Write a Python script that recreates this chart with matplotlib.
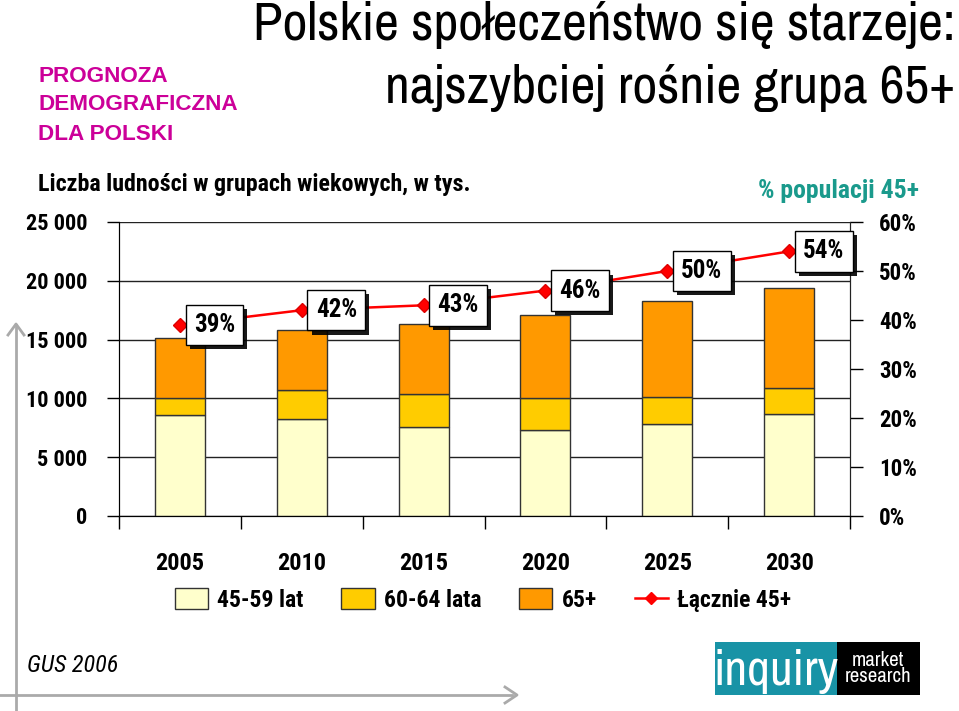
import numpy as np
import matplotlib
matplotlib.use("Agg")
import matplotlib.pyplot as plt
from matplotlib.patches import Rectangle, Patch
from matplotlib.lines import Line2D
from matplotlib.ticker import FuncFormatter, PercentFormatter
import matplotlib.patheffects as pe

years = ["2005", "2010", "2015", "2020", "2025", "2030"]
age_45_59 = np.array([8600, 8250, 7550, 7300, 7800, 8650])
age_60_64 = np.array([1450, 2450, 2800, 2700, 2300, 2200])
age_65p = np.array([5100, 5100, 5950, 7050, 8150, 8500])
share_45p = np.array([0.39, 0.42, 0.43, 0.46, 0.50, 0.54])
share_labels = ["39%", "42%", "43%", "46%", "50%", "54%"]

c_a = "#FFFFCC"
c_b = "#FFCC00"
c_c = "#FF9900"
magenta = "#CC0099"
teal = "#1A9A8C"

narrow = ["Roboto Condensed", "Archivo Narrow", "Liberation Sans", "DejaVu Sans"]
title_font = ["Archivo Narrow", "Roboto Condensed", "Liberation Sans", "DejaVu Sans"]
wide = ["Liberation Sans", "DejaVu Sans"]
plt.rcParams["font.family"] = narrow

W, H = 959, 711
fig = plt.figure(figsize=(W / 100, H / 100), dpi=100)


def fx(px):
    return px / W


def fy(py):
    return 1 - py / H


ax = fig.add_axes([fx(119), fy(516), fx(850) - fx(119), fy(222) - fy(516)])
x = np.arange(len(years))
bw = 0.41
ax.bar(x, age_45_59, bw, color=c_a, edgecolor="#333333", linewidth=1, zorder=3)
ax.bar(x, age_60_64, bw, bottom=age_45_59, color=c_b, edgecolor="#333333", linewidth=1, zorder=3)
ax.bar(x, age_65p, bw, bottom=age_45_59 + age_60_64, color=c_c, edgecolor="#333333", linewidth=1, zorder=3)

ax.set_xlim(-0.5, len(years) - 0.5)
ax.set_ylim(0, 25000)
ax.set_yticks(np.arange(0, 25001, 5000))
ax.yaxis.set_major_formatter(FuncFormatter(lambda v, p: f"{int(v):,}".replace(",", " ")))
ax.grid(axis="y", color="#222222", linewidth=1, zorder=0)
ax.set_axisbelow(True)
ax.tick_params(axis="y", length=9, width=1, labelsize=16, pad=14)
for t in ax.get_yticklabels():
    t.set_fontweight("bold")
ax.set_xticks(np.arange(-0.5, len(years)), labels=[""] * (len(years) + 1))
ax.tick_params(axis="x", which="major", length=9, width=1, direction="out")
ax.set_xticks(x, labels=years, minor=True)
ax.tick_params(axis="x", which="minor", length=0, labelsize=17.5, pad=26)
for t in ax.get_xticklabels(minor=True):
    t.set_fontweight("bold")
ax.spines["top"].set_visible(False)
for s in ["left", "right", "bottom"]:
    ax.spines[s].set_color("#222222")

ax2 = ax.twinx()
ax2.set_ylim(0, 0.6)
ax2.set_yticks(np.arange(0, 0.61, 0.1))
ax2.yaxis.set_major_formatter(PercentFormatter(1.0, decimals=0))
ax2.tick_params(axis="y", length=9, width=1, labelsize=16.5, pad=12)
for t in ax2.get_yticklabels():
    t.set_fontweight("bold")
ax2.spines["top"].set_visible(False)
ax2.spines["right"].set_color("#222222")
ax2.plot(x, share_45p, color="#FF0000", linewidth=1.8, marker="D", markersize=7,
         markerfacecolor="#FF0000", markeredgecolor="#DD0000", zorder=5)

for xi, yi, lab in zip(x, share_45p, share_labels):
    t = ax2.annotate(lab, (xi, yi), xytext=(10, 0), textcoords="offset points",
                     ha="left", va="center", fontsize=18, fontweight="bold",
                     bbox=dict(boxstyle="square,pad=0.33", facecolor="white",
                               edgecolor="black", linewidth=1), zorder=6)
    t.get_bbox_patch().set_path_effects([
        pe.SimplePatchShadow(offset=(3, -3), shadow_rgbFace="black", alpha=0.9),
        pe.Normal()])

handles = [
    Patch(facecolor=c_a, edgecolor="#333333"),
    Patch(facecolor=c_b, edgecolor="#333333"),
    Patch(facecolor=c_c, edgecolor="#333333"),
    Line2D([], [], color="#FF0000", linewidth=1.8, marker="D", markersize=6),
]
leg = fig.legend(handles, ["45-59 lat", "60-64 lata", "65+", "Łącznie 45+"],
                 loc="center", bbox_to_anchor=(fx(483), fy(600)), ncol=4,
                 frameon=False, prop=dict(family=narrow, weight="bold", size=17),
                 handlelength=1.4, handleheight=0.95, handletextpad=0.4,
                 columnspacing=1.6)

# titles
fig.text(fx(955), fy(25), "Polskie społeczeństwo się starzeje:", ha="right", va="center",
         fontsize=39, color="black", family=title_font)
fig.text(fx(955), fy(88), "najszybciej rośnie grupa 65+", ha="right", va="center",
         fontsize=39, color="black", family=title_font)
fig.text(fx(38), fy(105), "PROGNOZA\nDEMOGRAFICZNA\nDLA POLSKI", ha="left", va="center",
         fontsize=16.2, fontweight="bold", color=magenta, linespacing=1.5, family=wide)
fig.text(fx(38), fy(185), "Liczba ludności w grupach wiekowych, w tys.", ha="left",
         va="center", fontsize=17.3, fontweight="bold")
fig.text(fx(838), fy(191), "% populacji 45+", ha="center", va="center",
         fontsize=18.5, fontweight="bold", color=teal)
fig.text(fx(27), fy(665), "GUS 2006", ha="left", va="center", fontsize=17.5, style="italic")

# grey arrows
fig.add_artist(plt.Line2D([fx(0), fx(512)], [fy(695), fy(695)], color="#AAAAAA", linewidth=2))
fig.add_artist(plt.Line2D([fx(505), fx(517), fx(505)], [fy(687), fy(695), fy(703)],
                          color="#AAAAAA", linewidth=2))
fig.add_artist(plt.Line2D([fx(16), fx(16)], [fy(325), fy(711)], color="#AAAAAA", linewidth=2))
fig.add_artist(plt.Line2D([fx(8), fx(16), fx(24)], [fy(335), fy(324), fy(335)],
                          color="#AAAAAA", linewidth=2))

# logo
fig.add_artist(Rectangle((fx(715), fy(695)), fx(837) - fx(715), fy(642) - fy(695),
                         transform=fig.transFigure, facecolor="#1893A6", edgecolor="none"))
fig.add_artist(Rectangle((fx(837), fy(695)), fx(920) - fx(837), fy(642) - fy(695),
                         transform=fig.transFigure, facecolor="black", edgecolor="none"))
fig.text(fx(776), fy(672), "inquiry", ha="center", va="center", fontsize=36, color="white",
         family=title_font)
fig.text(fx(878), fy(669), "market\nresearch", ha="center", va="center", fontsize=15,
         color="white", linespacing=0.8, family=title_font)

fig.savefig("out.png", dpi=100)
